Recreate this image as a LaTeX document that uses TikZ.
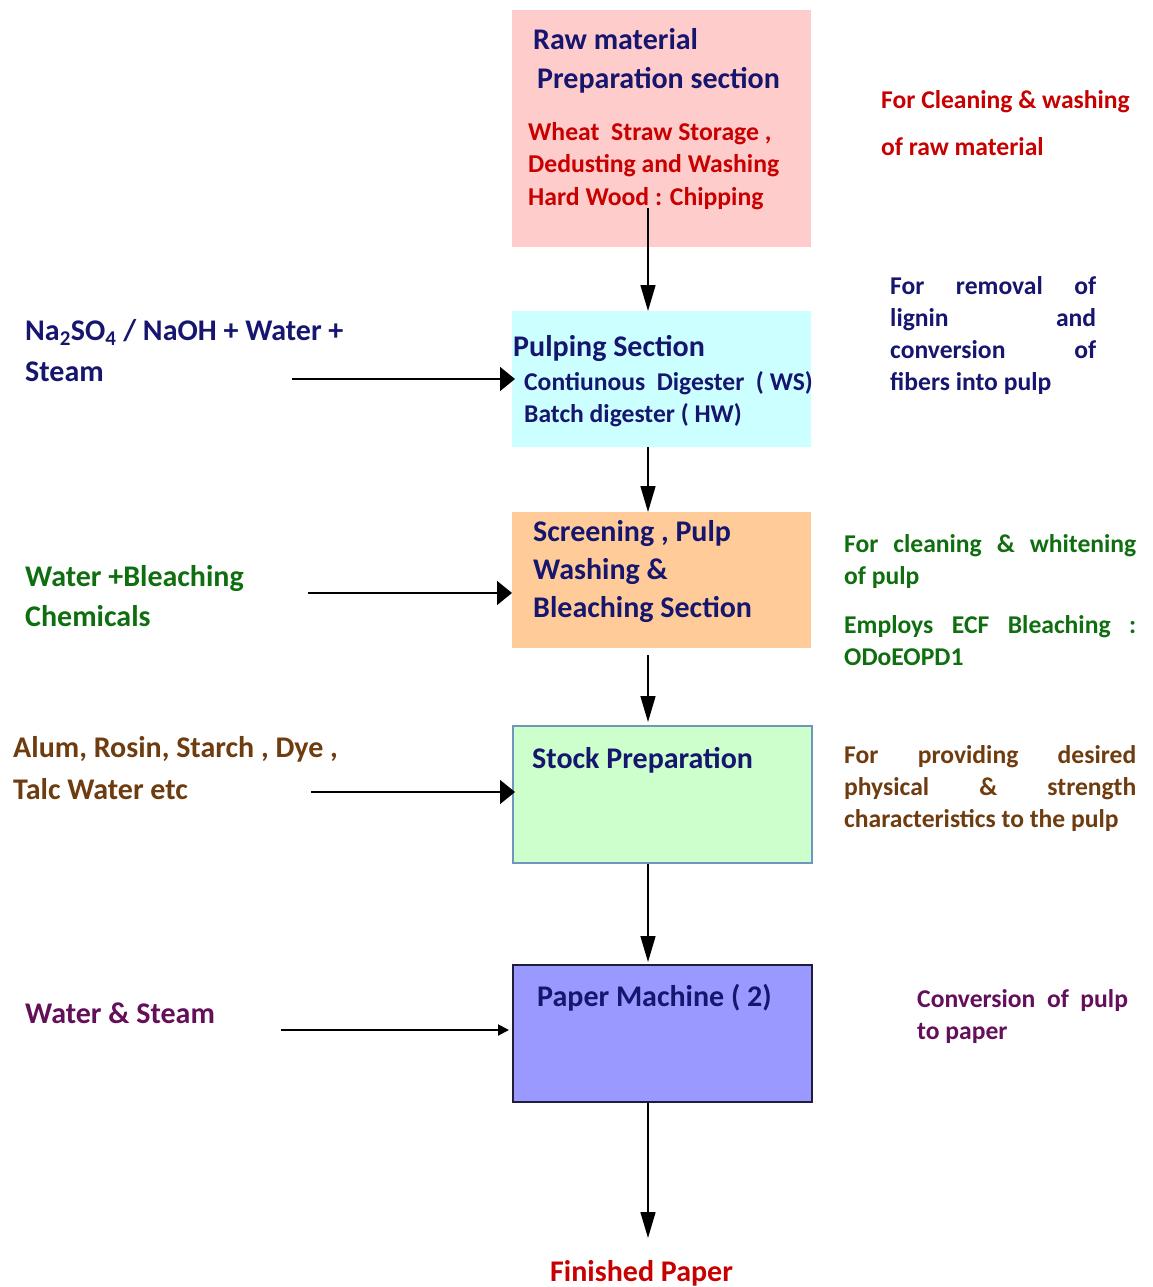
\documentclass[tikz,border=0pt]{standalone}
\usepackage{fontspec}
\setmainfont{Carlito}
\usetikzlibrary{arrows.meta,calc}
\definecolor{navy}{RGB}{22,22,110}
\definecolor{rred}{RGB}{200,0,0}
\definecolor{ggreen}{RGB}{15,110,15}
\definecolor{bbrown}{RGB}{110,60,15}
\definecolor{ppurple}{RGB}{100,15,90}
\definecolor{fpink}{RGB}{255,204,204}
\definecolor{fcyan}{RGB}{204,255,255}
\definecolor{forange}{RGB}{255,204,153}
\definecolor{fgreen}{RGB}{204,255,204}
\definecolor{fblue}{RGB}{153,153,255}
\definecolor{gborder}{RGB}{110,150,190}
\definecolor{bborder}{RGB}{30,30,60}
\tikzset{
  box/.style={rectangle, inner sep=0pt, minimum width=299pt, anchor=north west},
  txt/.style={anchor=base west, inner sep=0pt, font=\bfseries},
  big/.style={txt, font=\fontsize{30}{34}\selectfont\bfseries},
  mid/.style={txt, font=\fontsize{25.7}{29}\selectfont\bfseries},
  sml/.style={txt, font=\fontsize{25.6}{29}\selectfont\bfseries},
  varrow/.style={line width=1.5pt, -{Triangle[length=26pt,width=15pt]}},
  harrow/.style={line width=1.5pt, -{Triangle[length=15pt,width=24pt]}},
  harrowsm/.style={line width=2pt, -{Triangle[length=11pt,width=11pt]}},
}
\begin{document}
\begin{tikzpicture}[x=1pt,y=-1pt]
\useasboundingbox (0,0) rectangle (1152,1287);
% boxes
\node[box, fill=fpink, minimum height=237pt] (b1) at (512,10) {};
\node[box, fill=fcyan, minimum height=136pt] (b2) at (512,311) {};
\node[box, fill=forange, minimum height=136pt] (b3) at (512,512) {};
\node[box, fill=fgreen, draw=gborder, line width=1.5pt, minimum height=137pt] (b4) at (512,725) {};
\node[box, fill=fblue, draw=bborder, line width=1.8pt, minimum height=137pt] (b5) at (512,964) {};
% box texts
\node[big, text=navy] (t1a) at (533,50) {Raw material};
\node[big, text=navy] (t1b) at (537,89) {Preparation section};
\node[mid, text=rred] (t1c) at (528,140) {Wheat\ \ Straw Storage ,};
\node[mid, text=rred] (t1d) at (528,172) {Dedusting and Washing};
\node[mid, text=rred] (t1e) at (528,205) {Hard Wood : Chipping};
\node[big, text=navy] (t2a) at (513,356) {Pulping Section};
\node[sml, text=navy] (t2b) at (524,390) {Contiunous\ \ Digester\ \ ( WS)};
\node[sml, text=navy] (t2c) at (524,422) {Batch digester ( HW)};
\node[big, text=navy] (t3a) at (533,541) {Screening , Pulp};
\node[big, text=navy] (t3b) at (533,579) {Washing \&};
\node[big, text=navy] (t3c) at (533,617) {Bleaching Section};
\node[big, text=navy] (t4a) at (532,768) {Stock Preparation};
\node[big, text=navy] (t5a) at (537,1006) {Paper Machine ( 2)};
\node[big, text=rred] (fp) at (550,1281) {Finished Paper};
% left inputs
\node[big, text=navy] (l1a) at (25,340) {Na\textsubscript{2}SO\textsubscript{4} / NaOH + Water +};
\node[big, text=navy] (l1b) at (25,381) {Steam};
\node[big, text=ggreen] (l2a) at (25,586) {Water +Bleaching};
\node[big, text=ggreen] (l2b) at (25,626) {Chemicals};
\node[big, text=bbrown] (l3a) at (13,757) {Alum, Rosin, Starch , Dye ,};
\node[big, text=bbrown] (l3b) at (13,799) {Talc Water etc};
\node[big, text=ppurple] (l4a) at (25,1023) {Water \& Steam};
% right notes
\node[sml, text=rred] (r1a) at (881,109) {For Cleaning \& washing};
\node[sml, text=rred] (r1b) at (881,155) {of raw material};
\node[sml, text=navy] (r2a) at (890,294) {\makebox[206pt][s]{For removal of}};
\node[sml, text=navy] (r2b) at (890,326) {\makebox[206pt][s]{lignin and}};
\node[sml, text=navy] (r2c) at (890,358) {\makebox[206pt][s]{conversion of}};
\node[sml, text=navy] (r2d) at (890,390) {fibers into pulp};
\node[sml, text=ggreen] (r3a) at (844,552) {\makebox[292pt][s]{For cleaning \& whitening}};
\node[sml, text=ggreen] (r3b) at (844,584) {of pulp};
\node[sml, text=ggreen] (r3c) at (844,633) {\makebox[292pt][s]{Employs ECF Bleaching :}};
\node[sml, text=ggreen] (r3d) at (844,665) {ODoEOPD1};
\node[sml, text=bbrown] (r4a) at (844,763) {\makebox[292pt][s]{For providing desired}};
\node[sml, text=bbrown] (r4b) at (844,795) {\makebox[292pt][s]{physical \& strength}};
\node[sml, text=bbrown] (r4c) at (844,827) {characteristics to the pulp};
\node[sml, text=ppurple] (r5a) at (917,1007) {Conversion\ \ of\ \ pulp};
\node[sml, text=ppurple] (r5b) at (917,1039) {to paper};
% vertical connectors
\coordinate (ax) at (648,0);
\coordinate (fin) at (648,1238);
\draw[varrow] ($(ax |- b1.south)+(0,-39)$) -- (ax |- b2.north);
\draw[varrow] (ax |- b2.south) -- (ax |- b3.north);
\draw[varrow] ($(ax |- b3.south)+(0,7)$) -- ($(ax |- b4.north)+(0,-3)$);
\draw[varrow] (ax |- b4.south) -- ($(ax |- b5.north)+(0,-2)$);
\draw[varrow] (ax |- b5.south) -- (fin);
% horizontal connectors
\coordinate (s1) at (292,379);
\coordinate (s2) at (308,593);
\coordinate (s3) at (311,792);
\coordinate (s4) at (281,1030);
\draw[harrow] (s1) -- ($(b2.west |- s1)+(3,0)$);
\draw[harrow] (s2) -- (b3.west |- s2);
\draw[harrow] (s3) -- ($(b4.west |- s3)+(3,0)$);
\draw[harrowsm] (s4) -- ($(b5.west |- s4)+(-3,0)$);
\end{tikzpicture}
\end{document}
